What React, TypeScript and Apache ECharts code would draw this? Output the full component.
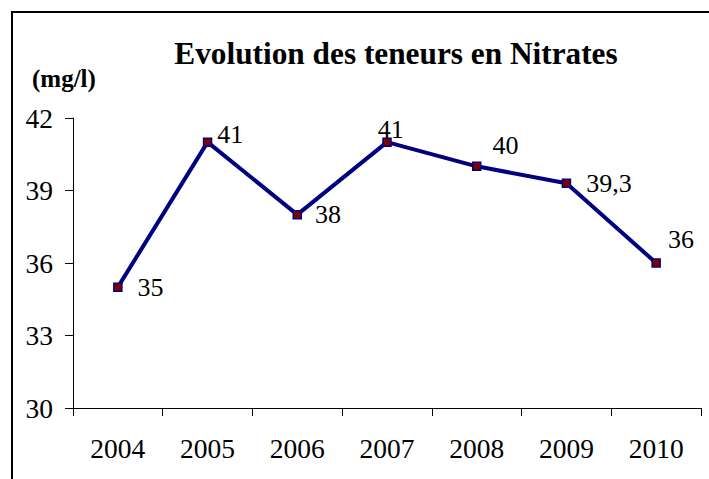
import React, { useEffect, useRef } from "react";
import * as echarts from "echarts";

const years = ["2004", "2005", "2006", "2007", "2008", "2009", "2010"];
const nitrates = [35, 41, 38, 41, 40, 39.3, 36];
const labelOffsets: [number, number][] = [
  [10, 0],
  [0, -8],
  [8, 0],
  [-19, -13],
  [6, -21],
  [10, 0],
  [2, -24],
];
const titleText = "Evolution des teneurs en Nitrates";
const unitText = "(mg/l)";

const FONT = "Liberation Serif";

export default function App() {
  const ref = useRef<HTMLDivElement>(null);
  useEffect(() => {
    if (!ref.current) return;
    const chart = echarts.init(ref.current, null, { renderer: "svg" });
    chart.setOption({
      animation: false,
      backgroundColor: "#ffffff",
      textStyle: { fontFamily: FONT },
      title: {
        text: titleText,
        left: 391,
        top: 33,
        textAlign: "center",
        textStyle: {
          fontFamily: FONT,
          fontWeight: "bold",
          fontSize: 31.3,
          color: "#000",
        },
      },
      graphic: [
        {
          type: "rect",
          shape: { x: 12, y: 12, width: 720, height: 500 },
          style: { fill: "none", stroke: "#000", lineWidth: 2 },
          silent: true,
        },
        {
          type: "text",
          left: 32,
          top: 66,
          style: {
            text: unitText,
            fontFamily: FONT,
            fontWeight: "bold",
            fontSize: 25,
            fill: "#000",
          },
        },
      ],
      grid: { left: 73, top: 118, right: 8, bottom: 71 },
      xAxis: {
        type: "category",
        data: years,
        boundaryGap: true,
        axisLine: { lineStyle: { color: "#000", width: 1 } },
        axisTick: { show: true, length: 8, alignWithLabel: false, lineStyle: { color: "#000" } },
        axisLabel: {
          margin: 26,
          fontFamily: FONT,
          fontSize: 27.5,
          color: "#000",
        },
        splitLine: { show: false },
      },
      yAxis: {
        type: "value",
        min: 30,
        max: 42,
        interval: 3,
        axisLine: { show: true, lineStyle: { color: "#000", width: 1 } },
        axisTick: { show: true, length: 8, lineStyle: { color: "#000" } },
        axisLabel: {
          margin: 20,
          fontFamily: FONT,
          fontSize: 27.5,
          color: "#000",
        },
        splitLine: { show: false },
      },
      series: [
        {
          type: "line",
          data: nitrates.map((v, i) => ({
            value: v,
            label: { offset: labelOffsets[i] },
          })),
          lineStyle: { color: "#000080", width: 4 },
          symbol: "rect",
          symbolSize: 8,
          itemStyle: { color: "#800000", borderColor: "#000080", borderWidth: 1.5 },
          label: {
            show: true,
            position: "right",
            distance: 5,
            fontFamily: FONT,
            fontSize: 26,
            color: "#000",
            formatter: (p: any) => String(p.value).replace(".", ","),
          },
        },
      ],
    });
    return () => chart.dispose();
  }, []);
  return (
    <div
      ref={ref}
      style={{ position: "fixed", left: 0, top: 0, width: 709, height: 479 }}
    />
  );
}
